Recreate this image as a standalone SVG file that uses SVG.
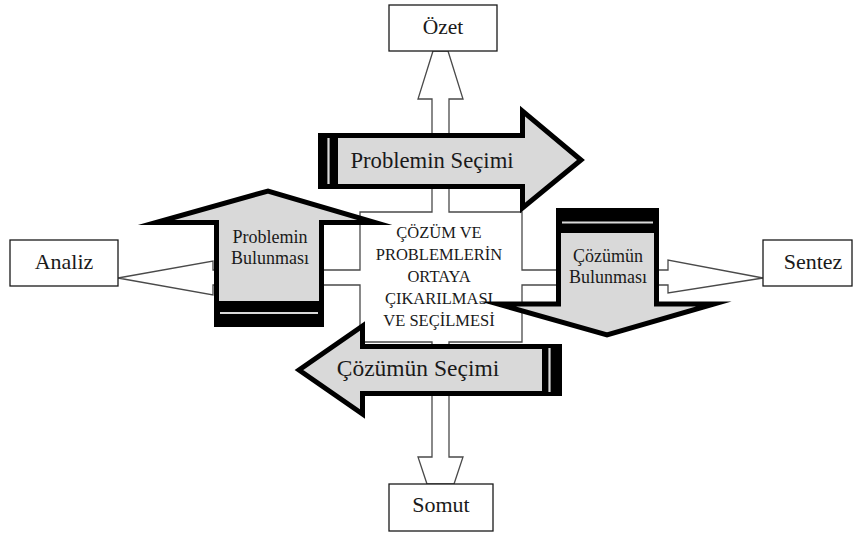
<svg xmlns="http://www.w3.org/2000/svg" width="854" height="534" viewBox="0 0 854 534">
<style>
.bg{fill:#ffffff}
.cross{fill:#ffffff;stroke:#4a4a4a;stroke-width:1.3;stroke-linejoin:miter}
.box{fill:#ffffff;stroke:#1a1a1a;stroke-width:1.3}
.big{fill:#d9d9d9;stroke:#000000;stroke-width:5;stroke-linejoin:miter;stroke-miterlimit:10}
.band{fill:#000000}
.stripe{stroke:#d9d9d9;stroke-width:2.2}
.t{font-family:"Liberation Serif","Times New Roman",serif;fill:#1a1a1a;text-anchor:middle}
</style>
<rect class="bg" x="0" y="0" width="854" height="534"/>
<g id="connectors">
<polygon class="cross" points="433,51 448,51 463,99 449,99 449,212 522,212 522,270 668,270 668,260 763,278 668,293 668,285 522,285 522,342 449,342 449,457 463,457 454,484 427,484 418,457 432,457 432,342 360,342 360,285 213,285 213,295 118,278 213,261 213,270 360,270 360,212 432,212 432,99 418,99"/>
</g>
<g id="center">
<text class="t" x="439" y="238" font-size="16.5">ÇÖZÜM VE</text>
<text class="t" x="439" y="260" font-size="16.5">PROBLEMLERİN</text>
<text class="t" x="439" y="282" font-size="16.5">ORTAYA</text>
<text class="t" x="439" y="304" font-size="16.5">ÇIKARILMASI</text>
<text class="t" x="439" y="326" font-size="16.5">VE SEÇİLMESİ</text>
</g>
<g id="ozet">
<rect class="box" x="389" y="5" width="108" height="46"/>
<text class="t" x="443" y="34" font-size="21.5">Özet</text>
</g>
<g id="analiz">
<rect class="box" x="10" y="240" width="108" height="46"/>
<text class="t" x="64" y="269" font-size="22">Analiz</text>
</g>
<g id="sentez">
<rect class="box" x="763" y="240" width="89" height="46"/>
<text class="t" x="813" y="269" font-size="22">Sentez</text>
</g>
<g id="somut">
<rect class="box" x="389" y="484" width="104" height="47"/>
<text class="t" x="441" y="512" font-size="22">Somut</text>
</g>
<g id="problemin-secimi">
<path class="big" d="M320.5,135.5 L522.5,135.5 L522.5,111 L581,160 L522.5,208 L522.5,186.5 L320.5,186.5 Z"/>
<rect class="band" x="318" y="133" width="20" height="56"/>
<line class="stripe" x1="328.5" y1="138" x2="328.5" y2="184"/>
<text class="t" x="432" y="168" font-size="22.7">Problemin Seçimi</text>
</g>
<g id="problemin-bulunmasi">
<path class="big" d="M216.5,324.5 L216.5,222.5 L156,222.5 L268,191 L375,222.5 L321.5,222.5 L321.5,324.5 Z"/>
<rect class="band" x="214" y="301" width="110" height="26"/>
<line class="stripe" x1="220" y1="313" x2="318" y2="313"/>
<text class="t" x="270" y="243" font-size="18">Problemin</text>
<text class="t" x="270" y="264" font-size="18">Bulunması</text>
</g>
<g id="cozumun-bulunmasi">
<path class="big" d="M558.5,210.5 L656.5,210.5 L656.5,304 L714,304 L607,335 L498,304 L558.5,304 Z"/>
<rect class="band" x="556" y="208" width="103" height="25"/>
<line class="stripe" x1="562" y1="222.5" x2="653" y2="222.5"/>
<text class="t" x="608" y="262" font-size="18">Çözümün</text>
<text class="t" x="608" y="283" font-size="18">Bulunması</text>
</g>
<g id="cozumun-secimi">
<path class="big" d="M559.5,346.5 L362.5,346.5 L362.5,326 L299,370 L362.5,414 L362.5,393.5 L559.5,393.5 Z"/>
<rect class="band" x="542" y="344" width="20" height="52"/>
<line class="stripe" x1="549.5" y1="348" x2="549.5" y2="392"/>
<text class="t" x="418" y="376" font-size="23.5">Çözümün Seçimi</text>
</g>
</svg>
